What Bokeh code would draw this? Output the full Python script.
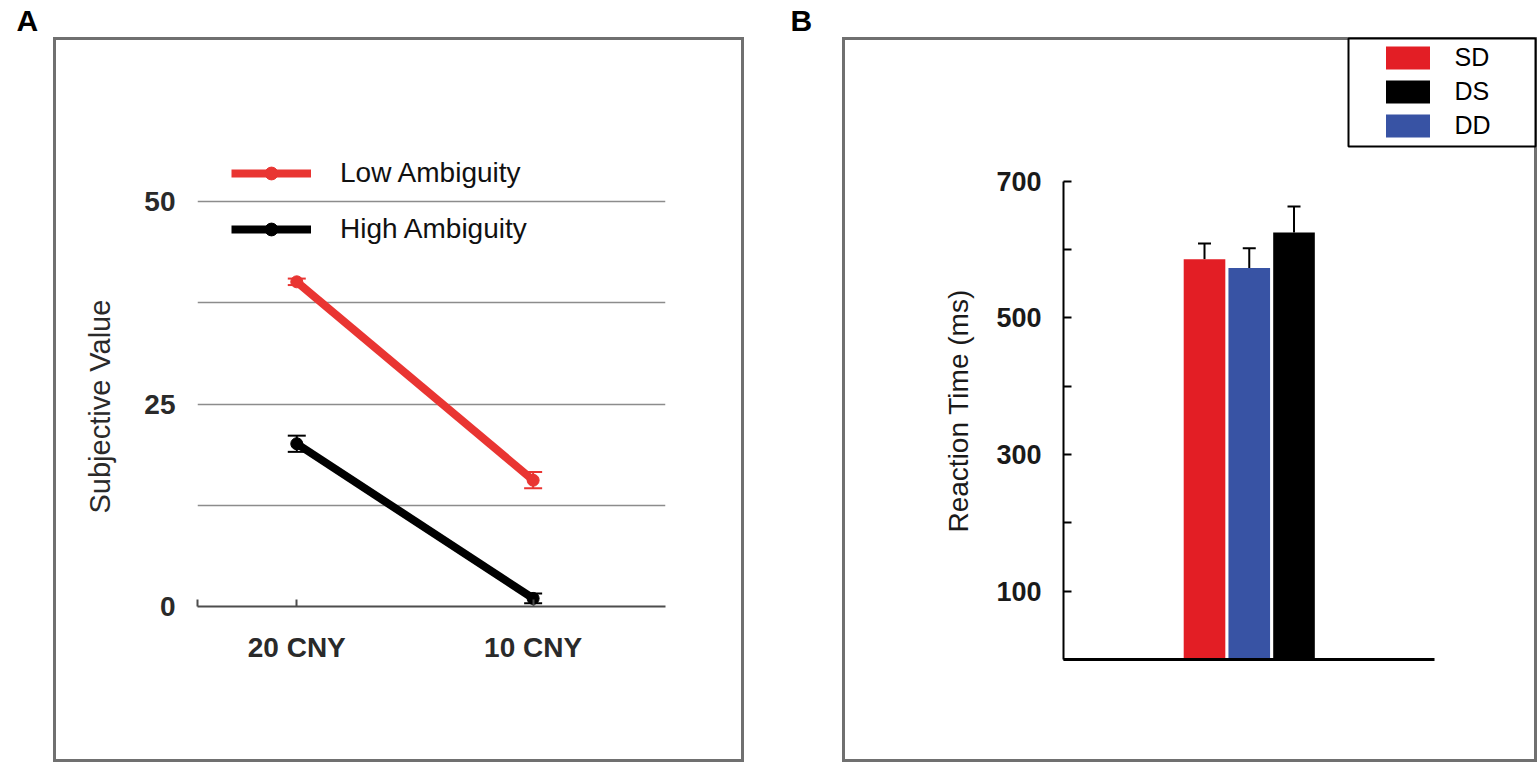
from bokeh.plotting import figure
from bokeh.models import (Range1d, FixedTicker, Whisker, TeeHead, ColumnDataSource,
                          Legend, LegendItem, BoxAnnotation, Title)
from bokeh.layouts import row
from bokeh.embed import file_html
from bokeh.resources import INLINE

# ---------------- data ----------------
conditions = ["20 CNY", "10 CNY"]
low_mean = [40.1, 15.6]
low_err = [0.4, 1.0]
high_mean = [20.1, 1.0]
high_err = [1.0, 0.6]
value_ticks = [0, 12.5, 25, 37.5, 50]
value_labels = ["0", "", "25", "", "50"]

rt_conditions = ["SD", "DD", "DS"]
rt_mean = [586, 573, 625]
rt_err = [23, 29, 38]
rt_colors = ["#e31e25", "#3853a4", "#000000"]
rt_ticks = [0, 100, 200, 300, 400, 500, 600, 700]
rt_labels = ["", "100", "", "300", "", "500", "", "700"]
legend_order = ["SD", "DS", "DD"]

FONT = "Liberation Sans"
BORDER = "#707070"


def panel_border(left, top, right, bottom, color=BORDER, w=3):
    g = f"linear-gradient({color},{color})"
    return {
        "background-image": ", ".join([g] * 4),
        "background-position": (f"{left}px {top}px, {left}px {top}px, "
                                f"{right}px {top}px, {left}px {bottom}px"),
        "background-size": (f"{right - left + w}px {w}px, {w}px {bottom - top + w}px, "
                            f"{w}px {bottom - top + w}px, {right - left + w}px {w}px"),
        "background-repeat": "no-repeat",
    }


def style_letter(t, offset):
    t.align = "left"
    t.offset = offset
    t.standoff = 0
    t.text_font = FONT
    t.text_font_size = "30px"
    t.text_font_style = "bold"
    t.text_color = "black"


# ---------------- panel A ----------------
pa = figure(width=778, height=763, output_backend="svg", toolbar_location=None,
            x_range=Range1d(0.58, 2.56), y_range=Range1d(0, 70.4),
            min_border_left=197, min_border_right=113, min_border_top=36,
            min_border_bottom=157, title="A", frame_align=False,
            border_fill_color=None, background_fill_color=None,
            styles=panel_border(53, 37, 741, 759))
pa.outline_line_color = None
pa.xgrid.visible = False
style_letter(pa.title, -181)

xa = list(range(1, len(conditions) + 1))
src_low = ColumnDataSource(dict(x=xa, y=low_mean,
                                lo=[m - e for m, e in zip(low_mean, low_err)],
                                hi=[m + e for m, e in zip(low_mean, low_err)]))
src_high = ColumnDataSource(dict(x=xa, y=high_mean,
                                 lo=[m - e for m, e in zip(high_mean, high_err)],
                                 hi=[m + e for m, e in zip(high_mean, high_err)]))

RED = "#e93532"
l1 = pa.line("x", "y", source=src_low, line_width=8, color=RED)
s1 = pa.scatter("x", "y", source=src_low, size=12, color=RED)
l2 = pa.line("x", "y", source=src_high, line_width=8, color="black")
s2 = pa.scatter("x", "y", source=src_high, size=12, color="black")
for src, col in ((src_low, RED), (src_high, "black")):
    pa.add_layout(Whisker(source=src, base="x", lower="lo", upper="hi",
                          line_color=col, line_width=2,
                          upper_head=TeeHead(size=18, line_color=col, line_width=2),
                          lower_head=TeeHead(size=18, line_color=col, line_width=2)))

ya = pa.yaxis[0]
ya.ticker = FixedTicker(ticks=value_ticks)
ya.major_label_overrides = {t: l for t, l in zip(value_ticks, value_labels)}
ya.axis_line_color = None
ya.major_tick_line_color = None
ya.major_tick_out = 0
ya.major_tick_in = 0
ya.major_label_standoff = 22
ya.major_label_text_font = FONT
ya.major_label_text_font_style = "bold"
ya.major_label_text_font_size = "28px"
ya.major_label_text_color = "#2a2a2a"
pa.ygrid.ticker = FixedTicker(ticks=value_ticks)
pa.ygrid.grid_line_color = "#8c8c8c"
pa.ygrid.grid_line_width = 1.5
pa.add_layout(Title(text="Subjective Value", align="left", offset=93, standoff=52,
                    text_font=FONT, text_font_size="29px", text_font_style="normal",
                    text_color="#2a2a2a"), "left")

xax = pa.xaxis[0]
xax.ticker = FixedTicker(ticks=[0.58] + xa)
ov = {0.58: ""}
ov.update({x: c for x, c in zip(xa, conditions)})
xax.major_label_overrides = ov
xax.axis_line_color = "#4d4d4d"
xax.axis_line_width = 2
xax.major_tick_line_color = "#4d4d4d"
xax.major_tick_line_width = 2
xax.major_tick_in = 7
xax.major_tick_out = 0
xax.major_label_standoff = 25
xax.major_label_text_font = FONT
xax.major_label_text_font_style = "bold"
xax.major_label_text_font_size = "28px"
xax.major_label_text_color = "#2a2a2a"

leg_a = Legend(items=[LegendItem(label="Low Ambiguity", renderers=[l1, s1]),
                      LegendItem(label="High Ambiguity", renderers=[l2, s2])],
               location=(34, 361), padding=0, spacing=24, glyph_width=80,
               glyph_height=32, label_height=32, label_standoff=29,
               border_line_color=None, background_fill_alpha=0,
               label_text_font=FONT, label_text_font_size="28px",
               label_text_color="#111111")
pa.add_layout(leg_a)

# ---------------- panel B ----------------
pb = figure(width=760, height=763, output_backend="svg", toolbar_location=None,
            x_range=Range1d(-2.151, 8.441), y_range=Range1d(0, 912),
            min_border_left=285, min_border_right=1, min_border_top=36,
            min_border_bottom=104, title="B", frame_align=False,
            border_fill_color=None, background_fill_color=None,
            styles=panel_border(64, 37, 756, 759))
pb.outline_line_color = None
pb.grid.visible = False
style_letter(pb.title, -273)

xb = list(range(1, len(rt_conditions) + 1))
src_b = ColumnDataSource(dict(x=xb, top=rt_mean, color=rt_colors, cond=rt_conditions,
                              hi=[m + e for m, e in zip(rt_mean, rt_err)]))
bars = pb.vbar(x="x", top="top", bottom=0, width=0.93, source=src_b,
               fill_color="color", line_color=None)
pb.add_layout(Whisker(source=src_b, base="x", lower="top", upper="hi",
                      line_color="black", line_width=2,
                      upper_head=TeeHead(size=13, line_color="black", line_width=2),
                      lower_head=None))

yb = pb.yaxis[0]
yb.ticker = FixedTicker(ticks=rt_ticks)
yb.major_label_overrides = {t: l for t, l in zip(rt_ticks, rt_labels)}
yb.bounds = (0, 700)
yb.axis_line_color = "black"
yb.axis_line_width = 2
yb.major_tick_line_color = "black"
yb.major_tick_line_width = 2
yb.major_tick_in = 8
yb.major_tick_out = 0
yb.major_label_standoff = 22
yb.major_label_text_font = FONT
yb.major_label_text_font_style = "bold"
yb.major_label_text_font_size = "27px"
yb.major_label_text_color = "#1a1a1a"
pb.add_layout(Title(text="Reaction Time (ms)", align="left", offset=127, standoff=40,
                    text_font=FONT, text_font_size="28px", text_font_style="normal",
                    text_color="#1a1a1a"), "left")

xbx = pb.xaxis[0]
xbx.ticker = FixedTicker(ticks=[])
xbx.bounds = (-2.151, 6.14)
xbx.axis_line_color = "black"
xbx.axis_line_width = 3
xbx.major_tick_line_color = None

pb.add_layout(BoxAnnotation(left=570, right=757, top=38, bottom=146,
                            left_units="canvas", right_units="canvas",
                            top_units="canvas", bottom_units="canvas",
                            fill_color="white", fill_alpha=1,
                            line_color="black", line_alpha=1, line_width=2))
leg_b = Legend(items=[LegendItem(label=c, renderers=[bars], index=rt_conditions.index(c))
                      for c in legend_order],
               location=(316.5, 519.5), padding=0, spacing=5, glyph_width=55,
               glyph_height=29, label_height=29, label_standoff=20,
               border_line_color=None, background_fill_alpha=0,
               label_text_font=FONT, label_text_font_size="25px",
               label_text_color="black")
pb.add_layout(leg_b)

layout = row(pa, pb)
open("out.html", "w").write(file_html(layout, INLINE))
